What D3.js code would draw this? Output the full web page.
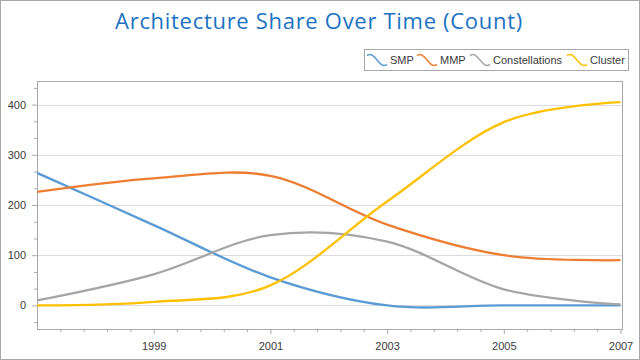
<!DOCTYPE html>
<html>
<head>
<meta charset="utf-8">
<script src="https://cdn.jsdelivr.net/npm/d3@7/dist/d3.min.js"></script>
<style>
  html, body { margin: 0; padding: 0; background: #fff; }
  svg { display: block; }
  text { font-family: "Liberation Sans", Arial, sans-serif; }
</style>
</head>
<body>
<svg id="chart" width="640" height="360"></svg>
<script>
// ---- data ----
const years = [1997, 1999, 2001, 2003, 2005, 2007];
const seriesNames = ["SMP", "MMP", "Constellations", "Cluster"];
const smp = [264, 160, 56, 0, 0, 0];
const mmp = [226, 253, 258, 161, 100, 90];
const constellations = [10, 62, 140, 127, 32, 2];
const cluster = [0, 7, 40, 207, 365, 405];
const seriesColors = ["#5B9BD5", "#ED7D31", "#A5A5A5", "#FFC000"];
const xMajorTicks = [1999, 2001, 2003, 2005, 2007];
const yMajorTicks = [0, 100, 200, 300, 400];
const titleText = "Architecture Share Over Time (Count)";

const seriesValues = [smp, mmp, constellations, cluster];

// ---- layout ----
const svg = d3.select("#chart");
const W = 640, H = 360;
const plot = { left: 37, right: 622, top: 81, bottom: 329 };

const x = d3.scaleLinear().domain([1997, 2007]).range([plot.left, 620.5]);
const y = d3.scaleLinear().domain([-47, 447]).range([plot.bottom, plot.top]);

// outer border
svg.append("rect")
  .attr("x", 0.5).attr("y", 0.5).attr("width", W - 1).attr("height", H - 1)
  .attr("fill", "#fff").attr("stroke", "#A8A8A8").attr("stroke-width", 1);

// title
svg.append("text")
  .attr("x", 319).attr("y", 29)
  .attr("text-anchor", "middle")
  .attr("fill", "#1B72C2")
  .style("font-family", "'Open Sans', 'Noto Sans', sans-serif")
  .style("font-size", "22px")
  .style("letter-spacing", "0.7px")
  .text(titleText);

// gridlines
svg.append("g")
  .selectAll("line")
  .data(yMajorTicks)
  .join("line")
  .attr("x1", plot.left).attr("x2", plot.right)
  .attr("y1", d => Math.round(y(d)) + 0.5).attr("y2", d => Math.round(y(d)) + 0.5)
  .attr("stroke", "#DCDCDC").attr("stroke-width", 1);

// minor tick values
const yMinor = [];
for (let v = -100 / 3; v < 447; v += 100 / 3) {
  if (Math.abs(v - Math.round(v / 100) * 100) > 1) yMinor.push(v);
}
const xMinor = [];
for (let i = 1; i <= 25; i++) {
  const v = 1997 + i * 0.4;
  if (Math.abs(v - Math.round(v)) > 0.01 || Math.round(v) % 2 === 0) xMinor.push(v);
}

function styleAxis(g) {
  g.select(".domain").remove();
  g.selectAll(".tick line").attr("stroke", "#A8A8A8");
  g.selectAll(".tick text").attr("fill", "#3A3A3A").style("font-size", "11px");
}

// y axis minor
svg.append("g")
  .attr("transform", `translate(${plot.left},0)`)
  .call(d3.axisLeft(y).tickValues(yMinor).tickSize(3).tickFormat(""))
  .call(styleAxis);
// y axis major
svg.append("g")
  .attr("transform", `translate(${plot.left},0)`)
  .call(d3.axisLeft(y).tickValues(yMajorTicks).tickSize(5).tickPadding(6).tickFormat(d3.format("d")))
  .call(styleAxis);

// x axis minor
svg.append("g")
  .attr("transform", `translate(0,${plot.bottom})`)
  .call(d3.axisBottom(x).tickValues(xMinor).tickSize(3).tickFormat(""))
  .call(styleAxis);
// x axis major
svg.append("g")
  .attr("transform", `translate(0,${plot.bottom})`)
  .call(d3.axisBottom(x).tickValues(xMajorTicks).tickSize(5).tickPadding(8).tickFormat(d3.format("d")))
  .call(styleAxis);

// plot border
svg.append("rect")
  .attr("x", plot.left + 0.5).attr("y", plot.top + 0.5)
  .attr("width", plot.right - plot.left).attr("height", plot.bottom - plot.top)
  .attr("fill", "none").attr("stroke", "#A8A8A8");

// lines
const line = d3.line()
  .x((d, i) => x(years[i]))
  .y(d => y(d))
  .curve(d3.curveCardinal.tension(0));

svg.append("defs").append("clipPath").attr("id", "clip")
  .append("rect").attr("x", plot.left).attr("y", plot.top)
  .attr("width", plot.right - plot.left + 1).attr("height", plot.bottom - plot.top);

svg.append("g").attr("clip-path", "url(#clip)")
  .selectAll("path")
  .data(seriesValues)
  .join("path")
  .attr("d", d => line(d))
  .attr("fill", "none")
  .attr("stroke", (d, i) => seriesColors[i])
  .attr("stroke-width", 2.3)
  .attr("stroke-linejoin", "round");

// legend
const legend = svg.append("g");
legend.append("rect")
  .attr("x", 364.5).attr("y", 49.5).attr("width", 264).attr("height", 21)
  .attr("fill", "#fff").attr("stroke", "#A8A8A8");

const legendX = [367, 417, 470, 567];
const wave = d3.range(0, 21).map(i => {
  const t = Math.PI * (0.3 + 1.4 * i / 20);
  return [i, -Math.sin(t) * 5.5];
});
const waveLine = d3.line().curve(d3.curveBasis);
seriesNames.forEach((name, i) => {
  const g = legend.append("g").attr("transform", `translate(${legendX[i]},60)`);
  g.append("path").attr("d", waveLine(wave))
    .attr("fill", "none").attr("stroke", seriesColors[i]).attr("stroke-width", 1.5);
  g.append("text").attr("x", 23).attr("y", 4)
    .attr("fill", "#3A3A3A").style("font-size", "11px").text(name);
});
</script>
</body>
</html>
